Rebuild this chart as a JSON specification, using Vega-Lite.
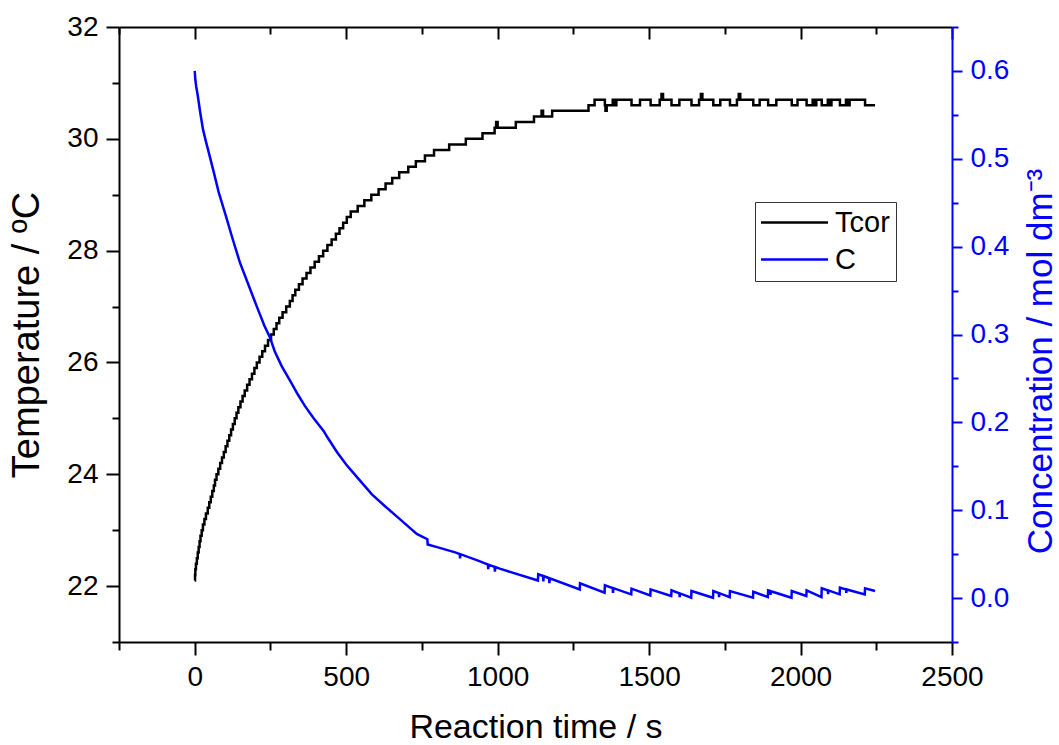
{
  "$schema": "https://vega.github.io/schema/vega-lite/v6.json",
  "width": 833,
  "height": 615,
  "autosize": {"type": "none"},
  "padding": {"left": 119, "top": 27, "right": 107, "bottom": 103},
  "background": "white",
  "config": {
    "font": "Liberation Sans",
    "view": {"stroke": null},
    "axis": {
      "grid": false,
      "labelFont": "Liberation Sans",
      "titleFont": "Liberation Sans",
      "titleFontWeight": "normal",
      "domainWidth": 2,
      "tickWidth": 2,
      "domainColor": "#000000",
      "tickColor": "#000000",
      "labelColor": "#000000",
      "titleColor": "#000000",
      "labelFontSize": 28,
      "titleFontSize": 34,
      "labelOverlap": false,
      "labelFlush": false
    }
  },
  "datasets": {
    "tcor": [
      {"t": 0, "T": 22.1}, {"t": 1, "T": 22.2}, {"t": 2, "T": 22.3}, {"t": 4, "T": 22.4}, {"t": 7, "T": 22.5},
      {"t": 10, "T": 22.6}, {"t": 13, "T": 22.7}, {"t": 16, "T": 22.8}, {"t": 19, "T": 22.9}, {"t": 23, "T": 23.0},
      {"t": 27, "T": 23.1}, {"t": 32, "T": 23.2}, {"t": 37, "T": 23.3}, {"t": 43, "T": 23.4}, {"t": 48, "T": 23.5},
      {"t": 53, "T": 23.6}, {"t": 58, "T": 23.7}, {"t": 63, "T": 23.8}, {"t": 67, "T": 23.9}, {"t": 72, "T": 24.0},
      {"t": 78, "T": 24.1}, {"t": 84, "T": 24.2}, {"t": 90, "T": 24.3}, {"t": 96, "T": 24.4}, {"t": 102, "T": 24.5},
      {"t": 108, "T": 24.6}, {"t": 114, "T": 24.7}, {"t": 120, "T": 24.8}, {"t": 126, "T": 24.9}, {"t": 132, "T": 25.0},
      {"t": 138, "T": 25.1}, {"t": 144, "T": 25.2}, {"t": 151, "T": 25.3}, {"t": 158, "T": 25.4}, {"t": 165, "T": 25.5},
      {"t": 173, "T": 25.6}, {"t": 181, "T": 25.7}, {"t": 189, "T": 25.8}, {"t": 197, "T": 25.9}, {"t": 205, "T": 26.0},
      {"t": 214, "T": 26.1}, {"t": 223, "T": 26.2}, {"t": 232, "T": 26.3}, {"t": 242, "T": 26.4}, {"t": 252, "T": 26.5},
      {"t": 261, "T": 26.6}, {"t": 270, "T": 26.7}, {"t": 279, "T": 26.8}, {"t": 290, "T": 26.9}, {"t": 302, "T": 27.0},
      {"t": 314, "T": 27.1}, {"t": 323, "T": 27.2}, {"t": 332, "T": 27.3}, {"t": 344, "T": 27.4}, {"t": 356, "T": 27.5},
      {"t": 369, "T": 27.6}, {"t": 382, "T": 27.7}, {"t": 396, "T": 27.8}, {"t": 410, "T": 27.9}, {"t": 424, "T": 28.0},
      {"t": 438, "T": 28.1}, {"t": 452, "T": 28.2}, {"t": 466, "T": 28.3}, {"t": 478, "T": 28.4}, {"t": 490, "T": 28.5},
      {"t": 502, "T": 28.6}, {"t": 515, "T": 28.7}, {"t": 538, "T": 28.8}, {"t": 560, "T": 28.9}, {"t": 583, "T": 29.0},
      {"t": 607, "T": 29.1}, {"t": 630, "T": 29.2}, {"t": 652, "T": 29.3}, {"t": 675, "T": 29.4}, {"t": 705, "T": 29.5},
      {"t": 730, "T": 29.6}, {"t": 760, "T": 29.7}, {"t": 790, "T": 29.8}, {"t": 840, "T": 29.9}, {"t": 895, "T": 30.0},
      {"t": 950, "T": 30.1}, {"t": 990, "T": 30.2}, {"t": 995, "T": 30.3}, {"t": 1000, "T": 30.2}, {"t": 1060, "T": 30.3},
      {"t": 1120, "T": 30.4}, {"t": 1145, "T": 30.5}, {"t": 1150, "T": 30.4}, {"t": 1180, "T": 30.5}, {"t": 1300, "T": 30.6},
      {"t": 1320, "T": 30.7}, {"t": 1354, "T": 30.6}, {"t": 1356, "T": 30.5}, {"t": 1360, "T": 30.6}, {"t": 1380, "T": 30.7},
      {"t": 1388, "T": 30.6}, {"t": 1392, "T": 30.7}, {"t": 1442, "T": 30.6}, {"t": 1470, "T": 30.7}, {"t": 1505, "T": 30.6},
      {"t": 1535, "T": 30.7}, {"t": 1541, "T": 30.8}, {"t": 1546, "T": 30.7}, {"t": 1574, "T": 30.6}, {"t": 1600, "T": 30.7},
      {"t": 1640, "T": 30.6}, {"t": 1665, "T": 30.7}, {"t": 1671, "T": 30.8}, {"t": 1676, "T": 30.7}, {"t": 1712, "T": 30.6},
      {"t": 1735, "T": 30.7}, {"t": 1767, "T": 30.6}, {"t": 1790, "T": 30.7}, {"t": 1796, "T": 30.8}, {"t": 1801, "T": 30.7},
      {"t": 1844, "T": 30.6}, {"t": 1865, "T": 30.7}, {"t": 1893, "T": 30.6}, {"t": 1920, "T": 30.7}, {"t": 1971, "T": 30.6},
      {"t": 1990, "T": 30.7}, {"t": 2020, "T": 30.6}, {"t": 2040, "T": 30.7}, {"t": 2046, "T": 30.6}, {"t": 2052, "T": 30.7},
      {"t": 2070, "T": 30.6}, {"t": 2090, "T": 30.7}, {"t": 2096, "T": 30.6}, {"t": 2102, "T": 30.7}, {"t": 2130, "T": 30.6},
      {"t": 2150, "T": 30.7}, {"t": 2156, "T": 30.6}, {"t": 2162, "T": 30.7}, {"t": 2213, "T": 30.6}, {"t": 2246, "T": 30.6}
    ],
    "conc": [
      {"t": 0, "C": 0.600}, {"t": 2, "C": 0.590}, {"t": 5, "C": 0.582}, {"t": 10, "C": 0.572}, {"t": 18, "C": 0.553},
      {"t": 27, "C": 0.534}, {"t": 36, "C": 0.521}, {"t": 45, "C": 0.509}, {"t": 62, "C": 0.486}, {"t": 79, "C": 0.462},
      {"t": 102, "C": 0.436}, {"t": 125, "C": 0.409}, {"t": 149, "C": 0.382}, {"t": 178, "C": 0.356}, {"t": 207, "C": 0.330},
      {"t": 230, "C": 0.310}, {"t": 248, "C": 0.297}, {"t": 264, "C": 0.281}, {"t": 287, "C": 0.264}, {"t": 317, "C": 0.246},
      {"t": 340, "C": 0.232}, {"t": 363, "C": 0.219}, {"t": 392, "C": 0.205}, {"t": 426, "C": 0.190}, {"t": 438, "C": 0.183},
      {"t": 470, "C": 0.166}, {"t": 500, "C": 0.152}, {"t": 540, "C": 0.136}, {"t": 585, "C": 0.118}, {"t": 630, "C": 0.104},
      {"t": 680, "C": 0.089}, {"t": 733, "C": 0.073}, {"t": 768, "C": 0.067}, {"t": 769, "C": 0.061}, {"t": 800, "C": 0.058},
      {"t": 860, "C": 0.052}, {"t": 875, "C": 0.050}, {"t": 876, "C": 0.045}, {"t": 877, "C": 0.050}, {"t": 940, "C": 0.042},
      {"t": 968, "C": 0.038}, {"t": 969, "C": 0.033}, {"t": 970, "C": 0.038}, {"t": 990, "C": 0.0355}, {"t": 991, "C": 0.030},
      {"t": 992, "C": 0.0354}, {"t": 1007, "C": 0.0335}, {"t": 1133, "C": 0.0200}, {"t": 1134, "C": 0.0271},
      {"t": 1150, "C": 0.0251}, {"t": 1151, "C": 0.0190}, {"t": 1152, "C": 0.0250},
      {"t": 1170, "C": 0.0226}, {"t": 1171, "C": 0.0170}, {"t": 1172, "C": 0.0225},
      {"t": 1271, "C": 0.0099}, {"t": 1272, "C": 0.0168}, {"t": 1353, "C": 0.0061}, {"t": 1354, "C": 0.0145},
      {"t": 1380, "C": 0.0114}, {"t": 1381, "C": 0.0060}, {"t": 1382, "C": 0.0113},
      {"t": 1441, "C": 0.0042}, {"t": 1442, "C": 0.0107}, {"t": 1504, "C": 0.0030}, {"t": 1505, "C": 0.0099},
      {"t": 1573, "C": 0.0023}, {"t": 1574, "C": 0.0088},
      {"t": 1600, "C": 0.0054}, {"t": 1601, "C": 0.0010}, {"t": 1602, "C": 0.0053},
      {"t": 1639, "C": 0.0004}, {"t": 1640, "C": 0.0080}, {"t": 1711, "C": 0.0004}, {"t": 1712, "C": 0.0080},
      {"t": 1730, "C": 0.0057}, {"t": 1731, "C": 0.0010}, {"t": 1732, "C": 0.0056},
      {"t": 1766, "C": 0.0011}, {"t": 1767, "C": 0.0080}, {"t": 1843, "C": 0.0004}, {"t": 1844, "C": 0.0072},
      {"t": 1892, "C": 0.0011}, {"t": 1893, "C": 0.0088},
      {"t": 1900, "C": 0.0080}, {"t": 1901, "C": 0.0035}, {"t": 1902, "C": 0.0078},
      {"t": 1970, "C": 0.0004}, {"t": 1971, "C": 0.0080}, {"t": 2019, "C": 0.0023}, {"t": 2020, "C": 0.0088},
      {"t": 2069, "C": 0.0011}, {"t": 2070, "C": 0.0111},
      {"t": 2090, "C": 0.0088}, {"t": 2091, "C": 0.0045}, {"t": 2092, "C": 0.0087},
      {"t": 2129, "C": 0.0042}, {"t": 2130, "C": 0.0118},
      {"t": 2150, "C": 0.0099}, {"t": 2151, "C": 0.0060}, {"t": 2152, "C": 0.0098},
      {"t": 2212, "C": 0.0042}, {"t": 2213, "C": 0.0111}, {"t": 2246, "C": 0.0080}
    ]
  },
  "layer": [
    {
      "data": {"name": "tcor"},
      "mark": {"type": "line", "interpolate": "step-after", "strokeWidth": 2.5},
      "encoding": {
        "x": {
          "field": "t", "type": "quantitative",
          "scale": {"domain": [-250, 2500], "nice": false, "zero": false},
          "axis": {"orient": "bottom", "values": [0, 500, 1000, 1500, 2000, 2500], "format": "d", "tickSize": 13, "labelPadding": 8, "title": "Reaction time / s", "titleFontSize": 34, "titlePadding": 19}
        },
        "y": {
          "field": "T", "type": "quantitative",
          "scale": {"domain": [21, 32], "nice": false, "zero": false},
          "axis": {"orient": "left", "values": [22, 24, 26, 28, 30, 32], "tickSize": 13, "labelPadding": 8, "title": "Temperature / ºC", "titleFontSize": 38, "titlePadding": 20}
        },
        "color": {
          "datum": "Tcor", "type": "nominal",
          "scale": {"domain": ["Tcor", "C"], "range": ["#000000", "#0000ff"]},
          "legend": {
            "orient": "none", "legendX": 636, "legendY": 175, "title": null,
            "symbolType": "M-3.35,0H3.35", "symbolSize": 400, "symbolStrokeWidth": 2.5,
            "symbolOffset": 19, "labelOffset": 26,
            "labelFontSize": 29, "labelFont": "Liberation Sans", "labelColor": "#000000",
            "strokeColor": "#333333", "fillColor": "#ffffff", "padding": 6, "rowPadding": 7
          }
        }
      }
    },
    {
      "data": {"name": "conc"},
      "mark": {"type": "line", "strokeWidth": 2.5},
      "encoding": {
        "x": {"field": "t", "type": "quantitative", "axis": null},
        "y": {
          "field": "C", "type": "quantitative",
          "scale": {"domain": [-0.05, 0.65], "nice": false, "zero": false},
          "axis": {
            "orient": "right", "values": [0, 0.1, 0.2, 0.3, 0.4, 0.5, 0.6], "format": ".1f",
            "tickSize": 10, "labelPadding": 8, "labelColor": "#0000ff", "tickColor": "#0000ff", "domainColor": "#0000ff",
            "title": "Concentration / mol dm⁻³", "titleColor": "#0000ff", "titleFontSize": 35, "titleAngle": 270, "titleBaseline": "top", "titlePadding": 15, "titleY": 334
          }
        },
        "color": {"datum": "C", "type": "nominal"}
      }
    },
    {
      "data": {"name": "tcor"},
      "mark": {"type": "line", "opacity": 0},
      "encoding": {
        "x": {
          "field": "t", "type": "quantitative",
          "axis": {"orient": "bottom", "values": [-250, 250, 750, 1250, 1750, 2250], "tickSize": 8, "labels": false, "domain": false, "title": null}
        },
        "y": {
          "field": "T", "type": "quantitative",
          "scale": {"domain": [21, 32], "nice": false, "zero": false},
          "axis": {"orient": "left", "values": [21, 23, 25, 27, 29, 31], "tickSize": 7, "labels": false, "domain": false, "title": null}
        }
      }
    },
    {
      "data": {"name": "conc"},
      "mark": {"type": "line", "opacity": 0},
      "encoding": {
        "x": {
          "field": "t", "type": "quantitative",
          "axis": {"orient": "top", "values": [0, 500, 1000, 1500, 2000, 2500], "tickSize": -12, "labels": false, "domain": true, "title": null}
        },
        "y": {
          "field": "C", "type": "quantitative",
          "scale": {"domain": [-0.05, 0.65], "nice": false, "zero": false},
          "axis": {"orient": "right", "values": [-0.05, 0.05, 0.15, 0.25, 0.35, 0.45, 0.55, 0.65], "tickSize": 6, "tickColor": "#0000ff", "labels": false, "domain": false, "title": null}
        }
      }
    },
    {
      "data": {"name": "tcor"},
      "mark": {"type": "line", "opacity": 0},
      "encoding": {
        "x": {
          "field": "t", "type": "quantitative",
          "axis": {"orient": "top", "values": [-250, 250, 750, 1250, 1750, 2250], "tickSize": -7, "labels": false, "domain": false, "title": null}
        },
        "y": {
          "field": "T", "type": "quantitative",
          "scale": {"domain": [21, 32], "nice": false, "zero": false},
          "axis": null
        }
      }
    }
  ],
  "resolve": {"scale": {"y": "independent"}, "axis": {"x": "independent", "y": "independent"}}
}
